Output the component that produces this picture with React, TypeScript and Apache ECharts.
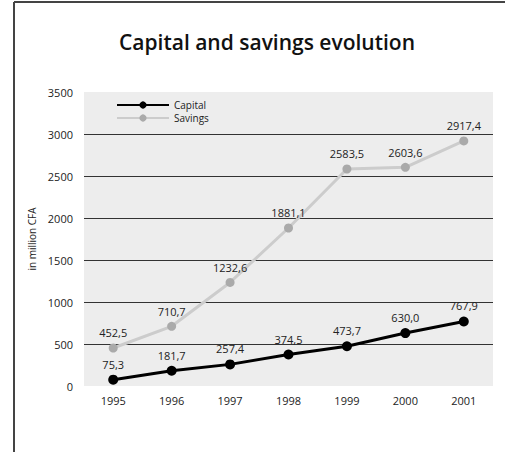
import React, { useEffect, useRef } from "react";
import * as echarts from "echarts";

const years = ["1995", "1996", "1997", "1998", "1999", "2000", "2001"];
const capital = [75.3, 181.7, 257.4, 374.5, 473.7, 630.0, 767.9];
const savings = [452.5, 710.7, 1232.6, 1881.1, 2583.5, 2603.6, 2917.4];

const FONT = "'Open Sans', 'Noto Sans', sans-serif";
const fmt = (p: any) => Number(p.value).toFixed(1).replace(".", ",");

export default function App() {
  const ref = useRef<HTMLDivElement>(null);
  useEffect(() => {
    const chart = echarts.init(ref.current!, null, { renderer: "svg" });
    const clear = "rgba(0,0,0,0)";
    chart.setOption({
      animation: false,
      backgroundColor: "#ffffff",
      textStyle: { fontFamily: FONT },
      title: {
        text: "Capital and savings evolution",
        left: 262,
        textAlign: "center",
        top: 26,
        textStyle: { fontFamily: FONT, fontSize: 21, fontWeight: 600, color: "#111" },
      },
      graphic: [
        { type: "line", shape: { x1: 14, y1: 2, x2: 14, y2: 452 }, style: { stroke: "#444", lineWidth: 2 } },
        { type: "line", shape: { x1: 14, y1: 2, x2: 505, y2: 2 }, style: { stroke: "#444", lineWidth: 2 } },
      ],
      legend: {
        orient: "vertical",
        left: 111,
        top: 95,
        itemWidth: 52,
        itemHeight: 9,
        itemGap: 3,
        textStyle: { fontFamily: FONT, fontSize: 10, color: "#222" },
        data: ["Capital", "Savings"],
      },
      grid: {
        left: 84,
        right: 12,
        top: 92,
        bottom: 66,
        show: true,
        backgroundColor: "#ededed",
        borderWidth: 0,
      },
      xAxis: {
        type: "category",
        data: years,
        axisLine: { show: false },
        axisTick: { show: false },
        axisLabel: { fontFamily: FONT, fontSize: 11, color: "#222", margin: 9 },
      },
      yAxis: {
        type: "value",
        min: 0,
        max: 3500,
        interval: 500,
        name: "in million CFA",
        nameLocation: "middle",
        nameGap: 47,
        nameTextStyle: { fontFamily: FONT, fontSize: 10, color: "#222" },
        axisLine: { show: false },
        axisTick: { show: false },
        axisLabel: {
          fontFamily: FONT,
          fontSize: 11,
          color: "#222",
          margin: 11,
          formatter: (v: number) => String(v),
        },
        splitLine: {
          show: true,
          lineStyle: {
            color: [clear, "#333", "#333", "#333", "#333", "#333", "#333", clear],
            width: 1,
          },
        },
      },
      series: [
        {
          name: "Savings",
          type: "line",
          data: savings,
          symbol: "circle",
          symbolSize: 9,
          z: 2,
          lineStyle: { color: "#cccccc", width: 3 },
          itemStyle: { color: "#aaaaaa" },
          label: { show: true, position: "top", distance: 5, formatter: fmt, fontFamily: FONT, fontSize: 11, color: "#222" },
        },
        {
          name: "Capital",
          type: "line",
          data: capital,
          symbol: "circle",
          symbolSize: 10,
          z: 3,
          lineStyle: { color: "#000", width: 3 },
          itemStyle: { color: "#000" },
          label: { show: true, position: "top", distance: 5, formatter: fmt, fontFamily: FONT, fontSize: 11, color: "#222" },
        },
      ],
    });
    return () => chart.dispose();
  }, []);
  return (
    <div
      ref={ref}
      style={{ position: "absolute", left: 0, top: 0, width: 505, height: 452 }}
    />
  );
}
